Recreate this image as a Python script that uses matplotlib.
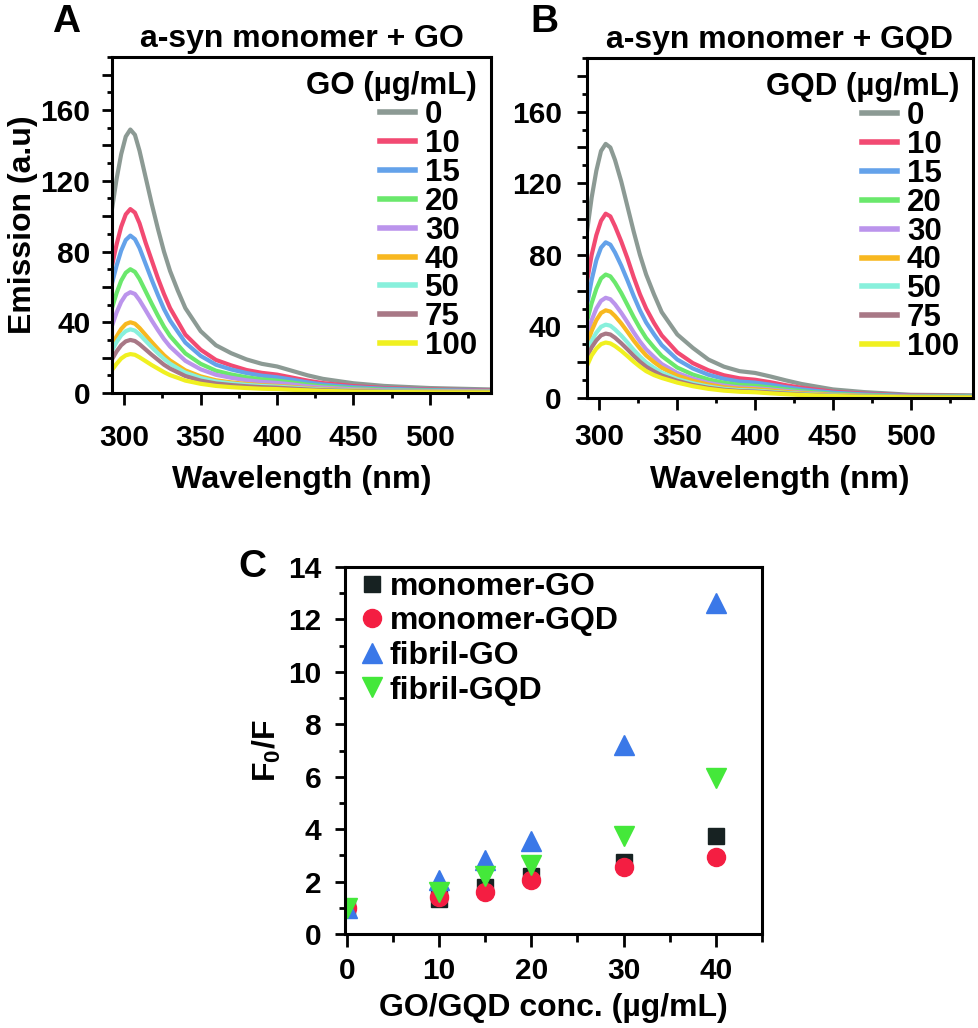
import numpy as np
import matplotlib.pyplot as plt
from matplotlib.ticker import MultipleLocator, FuncFormatter

plt.rcParams['font.family'] = ['Liberation Sans', 'DejaVu Sans']
plt.rcParams['font.weight'] = 'bold'
plt.rcParams['mathtext.fontset'] = 'custom'
plt.rcParams['mathtext.rm'] = 'Liberation Sans:bold'
plt.rcParams['mathtext.bf'] = 'Liberation Sans:bold'
plt.rcParams['mathtext.it'] = 'Liberation Sans:bold'
plt.rcParams['axes.linewidth'] = 2.2

# ---------------------------------------------
# Datos: espectros de emisión
wl = [292, 295, 298, 301, 304, 307, 310, 314, 318, 322, 326, 330, 335, 340,
      350, 360, 370, 380, 390, 400, 410, 420, 430, 450, 470, 500, 540]

conc = ['0', '10', '15', '20', '30', '40', '50', '75', '100']
colors = ['#8c9a94', '#f24a72', '#64a2ea', '#6ae86c', '#bb94ec',
          '#f8b820', '#88f0dc', '#a87886', '#f0f020']

go_0 = [104, 121, 135, 145, 149, 146, 137, 122, 107, 93, 80, 69, 58, 48, 35, 27, 22.5, 19, 16.5, 15, 12.5, 10, 8, 5.5, 4, 2.8, 2.0]
go_10 = [72, 84, 94, 101, 104, 102, 96, 85, 75, 65, 56, 48, 40.5, 33, 24.5, 18.7, 15.6, 13, 11.4, 10.4, 8.7, 7, 5.6, 3.9, 2.8, 2.0, 1.4]
go_15 = [62, 72, 80.5, 86.5, 89, 87, 82, 73, 64, 55.5, 47.5, 41, 34.7, 28.5, 21, 16, 13.3, 11.3, 9.8, 8.9, 7.5, 6, 4.8, 3.3, 2.4, 1.7, 1.2]
go_20 = [48, 56.5, 63.5, 68, 70, 68.5, 64.5, 57.5, 50.5, 43.8, 37.5, 32.2, 27.3, 22.4, 16.5, 12.6, 10.5, 8.9, 7.7, 7, 5.9, 4.7, 3.8, 2.6, 1.9, 1.3, 0.9]
go_30 = [38, 45.5, 51.5, 55.5, 57, 56, 52.5, 46.8, 41, 35.6, 30.5, 26.2, 22.2, 18.2, 13.4, 10.3, 8.6, 7.2, 6.3, 5.7, 4.8, 3.8, 3.1, 2.1, 1.5, 1.1, 0.8]
go_40 = [27, 32, 36.2, 39, 40, 39.2, 36.8, 32.8, 28.8, 25, 21.4, 18.4, 15.6, 12.8, 9.4, 7.2, 6, 5.1, 4.4, 4, 3.4, 2.7, 2.2, 1.5, 1.1, 0.8, 0.6]
go_50 = [24, 28.8, 32.6, 35, 36, 35.3, 33.1, 29.5, 25.9, 22.5, 19.3, 16.6, 14, 11.5, 8.5, 6.5, 5.4, 4.6, 4, 3.6, 3, 2.4, 1.9, 1.3, 1, 0.7, 0.5]
go_75 = [19, 23.5, 27, 29.2, 30, 29.4, 27.6, 24.6, 21.6, 18.8, 16, 13.8, 11.7, 9.6, 7, 5.4, 4.5, 3.8, 3.3, 3, 2.5, 2, 1.6, 1.1, 0.8, 0.6, 0.4]
go_100 = [13, 16.5, 19.5, 21.3, 22, 21.6, 20.2, 18, 15.8, 13.8, 11.8, 10.1, 8.6, 7, 5.2, 4, 3.3, 2.8, 2.4, 2.2, 1.8, 1.5, 1.2, 0.8, 0.6, 0.4, 0.3]

gqd_0 = [93, 112, 127, 138, 142, 140, 133, 121, 107, 93, 80, 69, 58, 48, 35.5, 28, 21.5, 17.5, 15, 14, 12, 9.8, 7.8, 4.8, 3.3, 1.8, 1.5]
gqd_10 = [65, 80, 91, 99, 103, 101.5, 96, 87.5, 78, 67.5, 58, 50, 42, 35, 25.5, 19.5, 15.5, 12.7, 11, 10.2, 8.8, 7.1, 5.7, 3.5, 2.4, 1.4, 1.1]
gqd_15 = [52, 66, 77, 84, 87, 85.7, 81.3, 74, 65.7, 57, 49, 42.2, 35.7, 29.6, 21.5, 16.5, 13, 10.7, 9.2, 8.6, 7.4, 6, 4.8, 3, 2, 1.2, 1]
gqd_20 = [43, 53, 61, 66.8, 69, 68, 64.5, 58.7, 52, 45.2, 39, 33.5, 28.3, 23.5, 17, 13.1, 10.4, 8.5, 7.3, 6.8, 5.9, 4.8, 3.8, 2.3, 1.6, 0.9, 0.8]
gqd_30 = [35, 43.5, 50, 54.3, 56, 55.2, 52.4, 47.6, 42.3, 36.7, 31.6, 27.2, 23, 19, 14, 10.8, 8.4, 6.9, 5.9, 5.5, 4.8, 3.9, 3.1, 1.9, 1.3, 0.7, 0.6]
gqd_40 = [30, 37.5, 43.5, 47.5, 49, 48.3, 45.8, 41.7, 37, 32.1, 27.7, 23.8, 20.1, 16.9, 12.5, 9.6, 7.5, 6, 5.2, 4.9, 4.2, 3.4, 2.7, 1.7, 1.1, 0.6, 0.5]
gqd_50 = [26, 32, 36.5, 39.8, 41, 40.4, 38.3, 34.9, 31, 26.9, 23.2, 19.9, 16.9, 14.2, 10.6, 8.2, 6.4, 5.1, 4.4, 4.1, 3.5, 2.8, 2.3, 1.4, 0.9, 0.5, 0.5]
gqd_75 = [23, 28.3, 32.2, 35, 36, 35.5, 33.7, 30.6, 27.2, 23.6, 20.3, 17.5, 14.9, 12.6, 9.6, 7.3, 5.7, 4.6, 3.9, 3.6, 3.1, 2.5, 2, 1.2, 0.8, 0.5, 0.4]
gqd_100 = [18, 23.8, 27.6, 30.1, 31, 30.5, 29, 26.4, 23.4, 20.3, 17.5, 15, 12.8, 11.2, 8.6, 6.6, 5.1, 4.1, 3.5, 3.2, 2.6, 2.1, 1.7, 1.1, 0.7, 0.4, 0.3]

spec_go = [go_0, go_10, go_15, go_20, go_30, go_40, go_50, go_75, go_100]
spec_gqd = [gqd_0, gqd_10, gqd_15, gqd_20, gqd_30, gqd_40, gqd_50, gqd_75, gqd_100]

# Datos: F0/F frente a concentración
c_conc = [0, 10, 15, 20, 30, 40]
mono_go = [1.0, 1.35, 1.8, 2.2, 2.75, 3.75]
mono_gqd = [1.0, 1.4, 1.62, 2.06, 2.55, 2.93]
fib_go = [1.0, 2.06, 2.83, 3.53, 7.22, 12.64]
fib_gqd = [1.0, 1.62, 2.2, 2.64, 3.74, 5.96]

W, H = 979, 1028
fig = plt.figure(figsize=(W / 100, H / 100), dpi=100)


def ax_px(left, top, right, bottom):
    # caja de ejes en pixeles -> fracción de figura
    return [left / W, 1 - bottom / H, (right - left) / W, (bottom - top) / H]


def spectrum_panel(rect, spectra, title, leg_title, xpad, ypad):
    ax = fig.add_axes(rect)
    for vals, c, lab in zip(spectra, colors, conc):
        ax.plot(wl, vals, color=c, lw=3, label=lab)
    ax.set_xlim(292, 540)
    ax.set_ylim(0, 190)
    ax.xaxis.set_major_locator(MultipleLocator(50))
    ax.xaxis.set_minor_locator(MultipleLocator(25))
    ax.yaxis.set_major_locator(MultipleLocator(20))
    ax.yaxis.set_minor_locator(MultipleLocator(10))
    ax.yaxis.set_major_formatter(FuncFormatter(lambda v, p: '%d' % v if v % 40 == 0 else ''))
    ax.tick_params(axis='x', which='major', length=8.5, width=2, pad=xpad, labelsize=21.5)
    ax.tick_params(axis='x', which='minor', length=3.5, width=2)
    ax.tick_params(axis='y', which='major', length=7, width=2, pad=ypad, labelsize=21.5)
    ax.tick_params(axis='y', which='minor', length=3.5, width=2)
    ax.set_title(title, fontsize=23, fontweight='bold', pad=7)
    ax.set_xlabel('Wavelength (nm)', fontsize=23.3, fontweight='bold')
    leg = ax.legend(title=leg_title, loc='upper right', frameon=False, fontsize=22.5,
                    title_fontsize=22.5, labelspacing=-0.035, handlelength=1.1,
                    handletextpad=0.32, borderpad=0, borderaxespad=0.45,
                    alignment='right')
    for line in leg.get_lines():
        line.set_linewidth(4)
    return ax


# Panel A
ax_a = spectrum_panel(ax_px(112, 57, 491, 393), spec_go, 'a-syn monomer + GO',
                      'GO (µg/mL)', 14, 8.5)
ax_a.set_ylabel('Emission (a.u)', fontsize=23, fontweight='bold')
ax_a.yaxis.set_label_coords(-0.195, 0.5)
ax_a.xaxis.set_label_coords(0.5, -0.214)

# Panel B
ax_b = spectrum_panel(ax_px(587, 58, 973, 398), spec_gqd, 'a-syn monomer + GQD',
                      'GQD (µg/mL)', 9.5, 11)
ax_b.xaxis.set_label_coords(0.5, -0.197)

# Panel C
ax_c = fig.add_axes(ax_px(345, 567, 762, 934))
ax_c.plot(c_conc, mono_go, 's', color='#172222', ms=11, label='monomer-GO')
ax_c.plot(c_conc, mono_gqd, 'o', color='#f41e42', ms=13, label='monomer-GQD')
ax_c.plot(c_conc, fib_go, '^', color='#3a78e8', ms=14, label='fibril-GO')
ax_c.plot(c_conc, fib_gqd, 'v', color='#44e83a', ms=14, label='fibril-GQD')
ax_c.set_xlim(-0.2, 45)
ax_c.set_ylim(0, 14)
ax_c.xaxis.set_major_locator(MultipleLocator(10))
ax_c.xaxis.set_minor_locator(MultipleLocator(5))
ax_c.yaxis.set_major_locator(MultipleLocator(2))
ax_c.yaxis.set_minor_locator(MultipleLocator(1))
ax_c.tick_params(axis='x', which='major', length=9.5, width=2, pad=7, labelsize=21.5)
ax_c.tick_params(axis='x', which='minor', length=5.5, width=2)
ax_c.tick_params(axis='y', which='major', length=7.5, width=2, pad=9.5, labelsize=21.5)
ax_c.tick_params(axis='y', which='minor', length=4, width=2)
ax_c.set_xlabel('GO/GQD conc. (µg/mL)', fontsize=23, fontweight='bold')
ax_c.set_ylabel(r'F$_\mathbf{0}$/F', fontsize=23, fontweight='bold')
ax_c.xaxis.set_label_coords(0.5, -0.161)
ax_c.yaxis.set_label_coords(-0.149, 0.5)
ax_c.legend(loc='upper left', bbox_to_anchor=(0.0336, 0.987), frameon=False,
            fontsize=23, labelspacing=0.145, handlelength=0.8, handletextpad=0.17,
            borderpad=0, borderaxespad=0)

# Letras de los paneles
fig.text(66 / W, 1 - 22 / H, 'A', ha='center', va='center', fontsize=28, fontweight='bold')
fig.text(544 / W, 1 - 22 / H, 'B', ha='center', va='center', fontsize=28, fontweight='bold')
fig.text(252 / W, 1 - 567 / H, 'C', ha='center', va='center', fontsize=28, fontweight='bold')

fig.savefig('out.png', dpi=100)
